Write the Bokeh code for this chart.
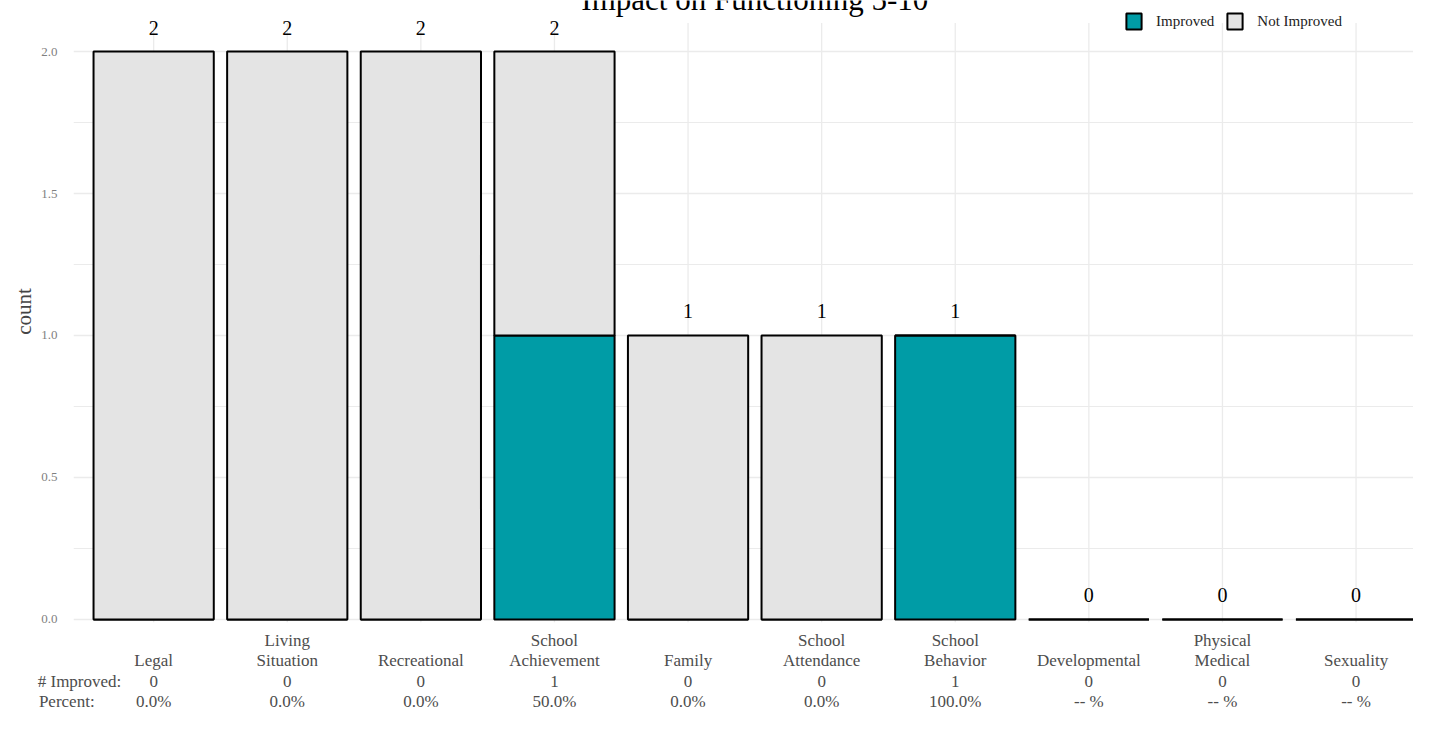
from bokeh.plotting import figure
from bokeh.models import Range1d, FixedTicker, ColumnDataSource, Label, Legend, LegendItem
from bokeh.core.properties import value
from bokeh.embed import file_html
from bokeh.resources import INLINE

categories = ["Legal", "Living\nSituation", "Recreational", "School\nAchievement", "Family",
              "School\nAttendance", "School\nBehavior", "Developmental", "Physical\nMedical", "Sexuality"]
improved = [0, 0, 0, 1, 0, 0, 1, 0, 0, 0]
not_improved = [2, 2, 2, 1, 1, 1, 0, 0, 0, 0]
y_ticks = [0.0, 0.5, 1.0, 1.5, 2.0]
y_minor = [0.25, 0.75, 1.25, 1.75]
series_names = ["Improved", "Not Improved"]
row_captions = ["# Improved:", "Percent:"]
title_text = "Impact on Functioning 5-10"

FONT = "Liberation Serif"
TEAL = "#009ca6"
GRAY = "#e4e4e4"
GRID = "#ebebeb"

xs = list(range(1, len(categories) + 1))
totals = [a + b for a, b in zip(improved, not_improved)]
pcts = [("%.1f%%" % (100.0 * a / t)) if t else "-- %" for a, t in zip(improved, totals)]
y_top = max(totals) * 1.05

overrides = {}
for x, c, a, pc in zip(xs, categories, improved, pcts):
    name = c if "\n" in c else "\u00a0\n" + c
    overrides[x] = name + "\n" + str(a) + "\n" + pc
caption_x = 0.445
overrides[caption_x] = "\u00a0\n\u00a0\n" + row_captions[0] + "\n" + row_captions[1] + "\u00a0" * 6

src = ColumnDataSource(dict(x=xs, improved=improved, not_improved=not_improved,
                            total=totals, total_txt=[str(t) for t in totals]))

Y_START, Y_END = -0.0106, 2.1796
p = figure(width=1413, height=714, output_backend="svg", toolbar_location=None,
           x_range=Range1d(0.4, 10.43), y_range=Range1d(Y_START, Y_END),
           min_border_left=73, min_border_right=0, min_border_top=0, min_border_bottom=92)
p.outline_line_color = None
p.background_fill_color = "white"

# vertical grid lines at the category centres (stopping at the panel top)
p.segment(x0=xs, x1=xs, y0=[Y_START] * len(xs), y1=[y_top] * len(xs),
          line_color=GRID, line_width=1.3)

rs = p.vbar_stack(["improved", "not_improved"], x="x", width=0.9, source=src,
                  fill_color=[TEAL, GRAY], line_color="black", line_width=2)

p.text(x="x", y="total", text="total_txt", source=src, text_align="center",
       text_baseline="alphabetic", y_offset=-24, text_font=value(FONT),
       text_font_size="20px", text_color="black")

# y axis
p.yaxis.ticker = FixedTicker(ticks=y_ticks, minor_ticks=y_minor)
p.yaxis.major_label_overrides = {t: "%.1f" % t for t in y_ticks}
p.yaxis.axis_line_color = None
p.yaxis.major_tick_line_color = None
p.yaxis.minor_tick_line_color = None
p.yaxis.major_label_text_font = FONT
p.yaxis.major_label_text_font_size = "13px"
p.yaxis.major_label_text_color = "#7f7f7f"
p.yaxis.major_label_standoff = 10
p.yaxis.axis_label = "count"
p.yaxis.axis_label_text_font = FONT
p.yaxis.axis_label_text_font_size = "21px"
p.yaxis.axis_label_text_font_style = "normal"
p.yaxis.axis_label_standoff = 2

# x axis with multi-line labels
p.xaxis.ticker = FixedTicker(ticks=[caption_x] + xs)
p.xaxis.major_label_overrides = overrides
p.xaxis.axis_line_color = None
p.xaxis.major_tick_line_color = None
p.xaxis.minor_tick_line_color = None
p.xaxis.major_label_text_font = FONT
p.xaxis.major_label_text_font_size = "17px"
p.xaxis.major_label_text_line_height = 1.08
p.xaxis.major_label_text_color = "#4d4d4d"
p.xaxis.major_label_standoff = 2

p.xgrid.visible = False
p.ygrid.grid_line_color = GRID
p.ygrid.grid_line_width = 1.3
p.ygrid.minor_grid_line_color = GRID
p.ygrid.minor_grid_line_width = 1

# title (cut at the top as in the reference)
p.add_layout(Label(x=sum(xs) / len(xs), y=Y_END, y_offset=1, text=title_text, text_align="center",
                   text_baseline="alphabetic", text_font=FONT, text_font_size="31px",
                   text_color="black"))

legend = Legend(items=[LegendItem(label=series_names[0], renderers=[rs[0]]),
                       LegendItem(label=series_names[1], renderers=[rs[1]])],
                orientation="horizontal", location=(1051, 591),
                glyph_width=19, glyph_height=20, label_text_font=FONT, label_text_font_size="15px",
                label_text_color="#222222",
                label_standoff=13, spacing=11, padding=0, margin=0,
                background_fill_alpha=0, border_line_color=None)
p.add_layout(legend)

open("out.html", "w").write(file_html(p, INLINE))
